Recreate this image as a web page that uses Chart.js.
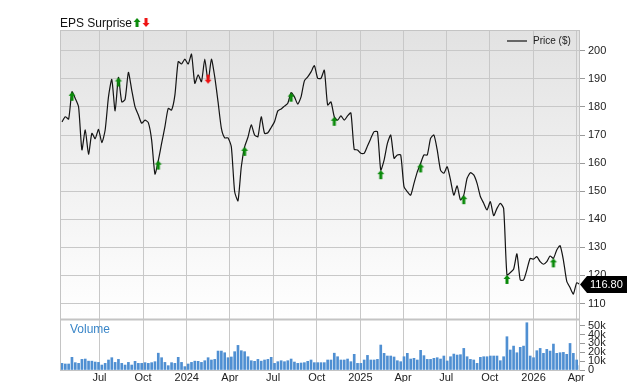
<!DOCTYPE html>
<html lang="en">
<head>
  <meta charset="UTF-8" />
  <title>EPS Surprise</title>
  <script src="https://cdn.jsdelivr.net/npm/chart.js"></script>
  <style>
    html, body { margin: 0; padding: 0; background: #fff; }
    .grafico-container { width: 640px; height: 382px; }
  </style>
</head>
<body>
  <div class="grafico-container">
    <canvas id="graficoPreco" width="640" height="382"></canvas>
  </div>

<script>
  // weekly closes, first week starts here
  const startDate = "2023-04-13";

  const prices = [
    174.7, 176.5, 175.7, 185.4, 183, 180, 164.7, 171.8, 163.2, 170.6,
    168.7, 172, 167.3, 171.8, 183.6, 189.8, 178.6, 190.5, 181.8, 182.7,
    192.3, 186, 180, 177.1, 174.2, 175.3, 174.4, 168.2, 156.1, 160.9,
    167, 173, 179.5, 178.9, 184.2, 196.1, 195.3, 197, 195.3,
    198.8, 188.4, 191.4, 189, 197, 189, 197, 190.7, 181.8, 172.4,
    169, 169, 165.8, 149.8, 146.6, 158.7, 165.8, 169.2, 173.6, 170,
    169.4, 176.5, 170.6, 170.8, 172.7, 174.7, 178.6, 179.3, 180.3, 181.3,
    185.1, 183.6, 181, 183.6, 189.3, 190.7, 192.5, 194.7, 190.2,
    190.2, 193.1, 180.7, 181.8, 176.5, 175.3, 176.8, 175.3, 176.8, 177.9,
    164.9, 164.7, 163.5, 163.5, 166.1, 168.8, 171.2, 171.2, 157.5, 161.1,
    167, 170, 161.7, 162.9, 162.9, 151.6, 149.8, 148.6, 152.8, 156.9,
    159.9, 162.9, 162.9, 168.8, 170, 164.7, 157.5, 156.4,
    158.7, 154, 148.6, 151.9, 146.9, 148.6, 154.6, 156.6, 155.8, 152.8,
    148.1, 145.7, 143.3, 146.3, 141.3, 143.9, 145.7, 143.9, 120.2, 121,
    122.2, 127.7, 118.4, 118.4, 122, 126.1, 125.8, 126.7, 124.9, 124,
    124.9, 126.9, 126.1, 129.1, 130.6, 125.5, 118, 115.7, 113.4, 117.4,
    116.8
  ];

  // weekly volume, in thousands
  const volumes = [
    7.5, 6.8, 6.8, 14.3, 8.3, 7.5, 12, 12.4, 10, 10,
    9, 8.6, 5.6, 7.5, 11.3, 13.9, 8.6, 12, 7.5, 5.6,
    8.6, 5.6, 9.8, 7.5, 7.5, 8.3, 7.5, 8.3, 9.4, 19,
    13.9, 8.6, 4.9, 8.3, 7.5, 14.3, 8.6, 3.8, 6.8, 8.6,
    10, 9.8, 8.6, 10.5, 13.9, 11.3, 12, 21.4, 21.4, 19.5,
    13.9, 14.7, 20.7, 27.8, 21.8, 20.7, 15, 10.5, 9.8, 12,
    10, 11.3, 12, 14.3, 7.5, 9.4, 10.5, 9.4, 10.5, 12.4,
    9, 7.5, 7.9, 8.3, 9.8, 11.3, 8.3, 8.3, 8.3, 8.3,
    11.3, 11.3, 19, 15,
    11.3, 11.3, 12.4, 9.4, 17.7, 7.5, 7.5, 11.3, 16.5, 11.3,
    11.3, 12, 28.2, 18.8, 15.8, 15.8, 14.7, 10.5, 9.4, 15,
    18.8, 12.4, 13.2, 11.3, 22.2, 16.2, 12, 12, 13.2, 13.9,
    12.4, 15.8, 10.2, 15, 18, 16.9, 17.3, 24.4, 15, 12,
    11.3, 7.5, 14.3, 15, 15, 15.8, 15.8, 15.8, 10.5, 15,
    37.6, 22.6, 27, 19.5, 25.6, 27, 53.4, 15.8, 13.9, 21.8,
    24.4, 18.8, 23.3, 21.4, 29.3, 18.8, 19.5, 19.9, 17.7, 30,
    18.8, 11.3, 4.9
  ];

  // earnings weeks (index into prices) and whether it was a beat
  const epsWeeks = [3, 17, 29, 44, 55, 69, 82, 96, 108, 121, 134, 148];
  const epsBeat = [true, true, true, false, true, true, true, true, true, true, true, true];

  const priceTicks = [110, 120, 130, 140, 150, 160, 170, 180, 190, 200];
  const volumeTicks = [0, 10, 20, 30, 40, 50];
  const monthDates = ["2023-07-01", "2023-10-01", "2024-01-01", "2024-04-01", "2024-07-01", "2024-10-01",
                      "2025-01-01", "2025-04-01", "2025-07-01", "2025-10-01", "2026-01-01", "2026-04-01"];
  const monthLabels = ["Jul", "Oct", "2024", "Apr", "Jul", "Oct", "2025", "Apr", "Jul", "Oct", "2026", "Apr"];
  const lastPrice = 116.80;

  const FONT = "'Liberation Sans', Arial, sans-serif";
  Chart.defaults.font.family = FONT;

  const dayOf = d => (Date.parse(d) - Date.parse(startDate)) / 86400000;

  // little arrow sprites, tip sits on the centre of the image
  function arrowImage(color, up) {
    const c = document.createElement("canvas");
    c.width = 10;
    c.height = 22;
    const g = c.getContext("2d");
    g.fillStyle = color;
    g.beginPath();
    if (up) {
      g.moveTo(5, 11); g.lineTo(8.5, 15); g.lineTo(6.5, 15); g.lineTo(6.5, 20);
      g.lineTo(3.5, 20); g.lineTo(3.5, 15); g.lineTo(1.5, 15);
    } else {
      g.moveTo(5, 13); g.lineTo(8.5, 9); g.lineTo(6.5, 9); g.lineTo(6.5, 4);
      g.lineTo(3.5, 4); g.lineTo(3.5, 9); g.lineTo(1.5, 9);
    }
    g.closePath();
    g.fill();
    return c;
  }
  const upArrow = arrowImage("#0a8a0a", true);
  const downArrow = arrowImage("#ee1111", false);

  const decorPlugin = {
    id: "decor",
    beforeDraw(chart) {
      const { ctx, chartArea: a, scales } = chart;
      const yp = scales.y;
      const grad = ctx.createLinearGradient(0, yp.top, 0, yp.bottom);
      grad.addColorStop(0, "#e2e2e2");
      grad.addColorStop(1, "#ffffff");
      ctx.save();
      ctx.fillStyle = grad;
      ctx.fillRect(a.left, yp.top, a.right - a.left, yp.bottom - yp.top);
      ctx.restore();
    },
    afterDraw(chart) {
      const { ctx, chartArea: a, scales } = chart;
      const yp = scales.y;
      ctx.save();

      // frame and panel separator
      ctx.strokeStyle = "#c4c4c4";
      ctx.lineWidth = 1;
      ctx.strokeRect(a.left + 0.5, a.top + 0.5, a.right - a.left - 1, a.bottom - a.top);
      ctx.lineWidth = 2;
      ctx.beginPath();
      ctx.moveTo(a.left, Math.round(yp.bottom) + 0.5);
      ctx.lineTo(a.right, Math.round(yp.bottom) + 0.5);
      ctx.stroke();

      // header
      ctx.fillStyle = "#111";
      ctx.font = "12px " + FONT;
      ctx.textBaseline = "alphabetic";
      ctx.textAlign = "left";
      ctx.fillText("EPS Surprise", 60, 27);
      const w = ctx.measureText("EPS Surprise").width;
      ctx.drawImage(upArrow, 60 + w, 7);
      ctx.drawImage(downArrow, 60 + w + 9, 14);

      // legend
      ctx.strokeStyle = "#666";
      ctx.lineWidth = 2;
      ctx.beginPath();
      ctx.moveTo(507, 41);
      ctx.lineTo(527, 41);
      ctx.stroke();
      ctx.fillStyle = "#222";
      ctx.font = "10px " + FONT;
      ctx.textBaseline = "middle";
      ctx.fillText("Price ($)", 533, 41.5);

      // Volume label
      ctx.fillStyle = "#3a86c8";
      ctx.font = "12px " + FONT;
      ctx.fillText("Volume", 70, 330);

      // last price tag
      const ty = yp.getPixelForValue(lastPrice);
      const tx = a.right;
      ctx.fillStyle = "#000";
      ctx.beginPath();
      ctx.moveTo(tx, ty);
      ctx.lineTo(tx + 7, ty - 8.5);
      ctx.lineTo(tx + 47, ty - 8.5);
      ctx.lineTo(tx + 47, ty + 8.5);
      ctx.lineTo(tx + 7, ty + 8.5);
      ctx.closePath();
      ctx.fill();
      ctx.fillStyle = "#fff";
      ctx.font = "11px " + FONT;
      ctx.fillText(lastPrice.toFixed(2), tx + 10, ty + 0.5);
      ctx.restore();
    }
  };

  const ctx = document.getElementById("graficoPreco").getContext("2d");
  new Chart(ctx, {
    data: {
      datasets: [
        {
          type: "line",
          label: "EPS",
          data: epsWeeks.map(i => ({ x: i * 7, y: prices[i] })),
          yAxisID: "y",
          showLine: false,
          pointStyle: epsBeat.map(b => (b ? upArrow : downArrow)),
          pointRadius: 5
        },
        {
          type: "line",
          label: "Price ($)",
          data: prices.map((v, i) => ({ x: i * 7, y: v })),
          yAxisID: "y",
          borderColor: "#141414",
          borderWidth: 1.2,
          pointRadius: 0,
          tension: 0.2
        },
        {
          type: "bar",
          label: "Volume",
          data: volumes.map((v, i) => ({ x: i * 7, y: v })),
          yAxisID: "yv",
          backgroundColor: "#4f8fd2",
          barThickness: 2
        }
      ]
    },
    options: {
      responsive: false,
      animation: false,
      events: [],
      layout: { padding: { left: 60, top: 30, right: 0, bottom: 0 } },
      plugins: { legend: { display: false }, tooltip: { enabled: false } },
      scales: {
        x: {
          type: "linear",
          offset: false,
          min: -4.2,
          max: (prices.length - 1) * 7,
          afterBuildTicks: s => { s.ticks = monthDates.map(d => ({ value: dayOf(d) })); },
          afterFit: s => { s.height = 12; },
          ticks: {
            callback: (v, i) => monthLabels[i],
            autoSkip: false,
            maxRotation: 0,
            padding: 1,
            color: "#222",
            font: { size: 11 }
          },
          grid: { color: "#c8c8c8", drawTicks: false, offset: false },
          border: { display: false }
        },
        y: {
          position: "right",
          stack: "paineis",
          stackWeight: 289,
          min: 104.5,
          max: 207.4,
          afterBuildTicks: s => { s.ticks = priceTicks.map(v => ({ value: v })); },
          afterFit: s => { s.width = 60; },
          ticks: { color: "#222", font: { size: 11 }, padding: 3, autoSkip: false },
          grid: { color: "#c8c8c8", tickLength: 5, tickColor: "#999" },
          border: { display: false }
        },
        yv: {
          position: "right",
          stack: "paineis",
          stackWeight: 51,
          min: 0,
          max: 57.6,
          afterBuildTicks: s => { s.ticks = volumeTicks.map(v => ({ value: v })); },
          afterFit: s => { s.width = 60; },
          ticks: {
            color: "#222",
            font: { size: 11 },
            padding: 3,
            autoSkip: false,
            callback: v => (v === 0 ? "0" : v + "k")
          },
          grid: { drawOnChartArea: false, tickLength: 5, color: "#999" },
          border: { display: false }
        }
      }
    },
    plugins: [decorPlugin]
  });
</script>
</body>
</html>
